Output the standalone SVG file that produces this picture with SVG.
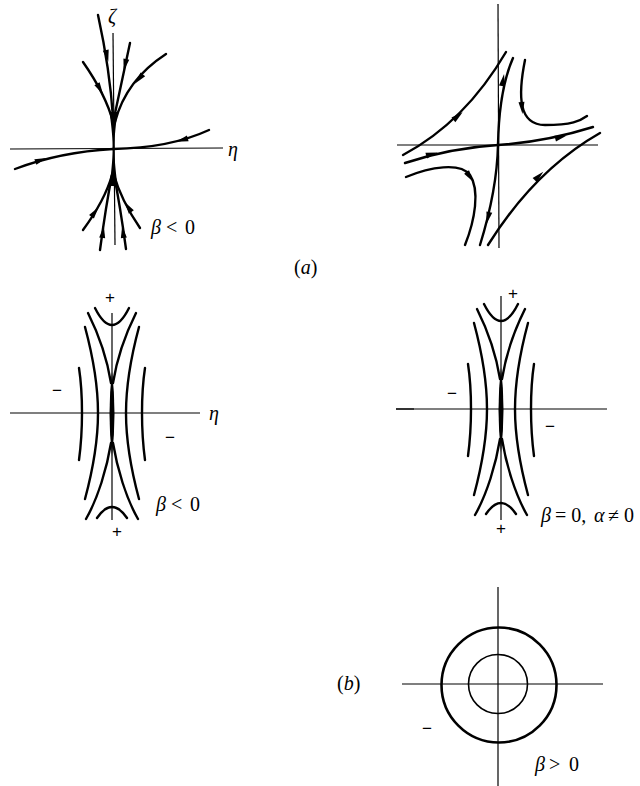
<svg xmlns="http://www.w3.org/2000/svg" xmlns:xlink="http://www.w3.org/1999/xlink" width="640" height="786" viewBox="0 0 640 786">
<style>
.ax{stroke:#000;stroke-width:1.2;fill:none}
.c{stroke:#000;stroke-width:2.4;fill:none;stroke-linecap:round}
.ct{stroke:#000;stroke-width:1.6;fill:none}
.t{font-family:"Liberation Serif",serif;font-size:20px;fill:#000}
.ti{font-family:"Liberation Serif",serif;font-style:italic;font-size:20px;fill:#000}
.s{font-family:"Liberation Sans",sans-serif;font-size:17px;fill:#000}
</style>
<defs>
<path id="ah" d="M6,0 L-6,-3 L-6,3 Z" fill="#000"/>
<g id="contours">
<path class="c" d="M-17,-105 Q0,-71 17,-105"/>
<path class="c" d="M-15,105 Q0,83 15,105"/>
<path class="c" d="M1,-30 C5,-55 14,-80 24,-100"/>
<path class="c" d="M-1,-30 C-5,-55 -14,-80 -24,-100"/>
<path class="c" d="M1,30 C5,55 14,85 26,106"/>
<path class="c" d="M-1,30 C-5,55 -14,85 -26,106"/>
<path class="c" d="M14,0 C14,-30 20,-60 27,-86 M14,0 C14,30 20,60 27,86"/>
<path class="c" d="M-14,0 C-14,-30 -20,-60 -27,-86 M-14,0 C-14,30 -20,60 -27,86"/>
<path class="c" d="M30,0 C30,-18 31,-32 33,-45 M30,0 C30,18 31,32 33,47"/>
<path class="c" d="M-30,0 C-30,-18 -31,-32 -33,-45 M-30,0 C-30,18 -31,32 -33,47"/>
<path d="M0,-42 Q5,0 0,44 Q-5,0 0,-42 Z" fill="#000"/>
</g>
</defs>

<g id="plot-a-left">
<line class="ax" x1="113" y1="33" x2="115" y2="245"/>
<line class="ax" x1="10" y1="149" x2="223" y2="148"/>
<path class="c" d="M98,15 Q110,70 113,118"/>
<path class="c" d="M130,43 Q121,85 114,118"/>
<path class="c" d="M83,62 Q106,95 113,122"/>
<path class="c" d="M166,54 Q126,80 115,122"/>
<path class="c" d="M209,130 Q170,148 113,149"/>
<path class="c" d="M15,169 Q60,152 113,149"/>
<path class="c" d="M83,230 Q105,200 112,175"/>
<path class="c" d="M100,250 Q106,205 112,175"/>
<path class="c" d="M126,249 Q120,205 114,175"/>
<path class="c" d="M140,228 Q121,200 114,175"/>
<path d="M109.5,112 Q113,138 112.5,148 Q113,158 109.5,186 L117.5,186 Q114,158 114.5,148 Q114,138 117.5,112 Z" fill="#000"/>
<use xlink:href="#ah" transform="translate(107,56) rotate(78)"/>
<use xlink:href="#ah" transform="translate(125,65) rotate(103)"/>
<use xlink:href="#ah" transform="translate(100,89) rotate(60)"/>
<use xlink:href="#ah" transform="translate(139,79) rotate(130)"/>
<use xlink:href="#ah" transform="translate(182,140) rotate(164)"/>
<use xlink:href="#ah" transform="translate(41,160) rotate(-20)"/>
<use xlink:href="#ah" transform="translate(95,212) rotate(-54)"/>
<use xlink:href="#ah" transform="translate(103,232) rotate(-82)"/>
<use xlink:href="#ah" transform="translate(123,232) rotate(-98)"/>
<use xlink:href="#ah" transform="translate(128,207) rotate(-124)"/>
<text class="ti" x="108" y="23">ζ</text>
<text class="ti" x="228" y="156">η</text>
<text class="ti" x="151" y="234">β</text>
<text class="t" x="166" y="234">&lt;</text>
<text class="t" x="185" y="234">0</text>
</g>

<g id="plot-a-right">
<line class="ax" x1="498" y1="4" x2="499" y2="248"/>
<line class="ax" x1="397" y1="145" x2="598" y2="145"/>
<path class="c" d="M403,155 Q465,122 506,52"/>
<path class="c" d="M405,163 Q450,148 498,145 Q545,142 593,127"/>
<path class="c" d="M480,245 Q497,190 498,145 Q499,90 513,58"/>
<path class="c" d="M525,60 C518,95 518,125 545,125 S580,121 587,116"/>
<path class="c" d="M406,177 C430,167 460,162 470,175 C480,190 475,220 465,245"/>
<path class="c" d="M488,245 Q535,170 600,133"/>
<use xlink:href="#ah" transform="translate(458,116) rotate(-40)"/>
<use xlink:href="#ah" transform="translate(432,154) rotate(-15)"/>
<use xlink:href="#ah" transform="translate(561,137) rotate(-15)"/>
<use xlink:href="#ah" transform="translate(503,80) rotate(-80)"/>
<use xlink:href="#ah" transform="translate(488,218) rotate(103)"/>
<use xlink:href="#ah" transform="translate(522,108) rotate(85)"/>
<use xlink:href="#ah" transform="translate(470,177) rotate(55)"/>
<use xlink:href="#ah" transform="translate(539,176) rotate(-45)"/>
</g>

<g id="label-a">
<text class="t" font-size="17" x="294" y="274">(<tspan font-style="italic">a</tspan>)</text>
</g>

<g id="plot-b-left">
<line class="ax" x1="10" y1="413" x2="200" y2="413"/>
<line class="ax" x1="112" y1="313" x2="112" y2="520"/>
<use xlink:href="#contours" transform="translate(112,413)"/>
<text class="s" x="105" y="303">+</text>
<text class="s" x="112" y="537">+</text>
<text class="s" x="52" y="396">−</text>
<text class="s" x="165" y="443">−</text>
<text class="ti" x="209" y="420">η</text>
<text class="ti" x="156" y="511">β</text>
<text class="t" x="171" y="511">&lt;</text>
<text class="t" x="190" y="511">0</text>
</g>

<g id="plot-b-right">
<line class="ax" x1="396" y1="409" x2="607" y2="409"/>
<line class="ax" x1="396" y1="409" x2="414" y2="409" stroke-width="2"/>
<line class="ax" x1="501" y1="296" x2="501" y2="520"/>
<use xlink:href="#contours" transform="translate(501,409)"/>
<text class="s" x="508" y="299">+</text>
<text class="s" x="496" y="534">+</text>
<text class="s" x="447" y="399">−</text>
<text class="s" x="545" y="432">−</text>
<text class="ti" x="541" y="522">β</text>
<text class="t" x="555" y="522">= 0,</text>
<text class="ti" x="594" y="522">α</text>
<text class="t" x="608" y="522">≠ 0</text>
</g>

<g id="plot-c">
<line class="ax" x1="498" y1="587" x2="498" y2="786"/>
<line class="ax" x1="402" y1="684" x2="603" y2="684"/>
<circle cx="499" cy="685" r="57.5" fill="none" stroke="#000" stroke-width="2.6"/>
<circle cx="498" cy="684" r="29.5" class="ct"/>
<text class="t" x="337" y="690">(<tspan font-style="italic">b</tspan>)</text>
<text class="s" x="422" y="734">−</text>
<text class="ti" x="535" y="771">β</text>
<text class="t" x="549" y="771">&gt;</text>
<text class="t" x="569" y="771">0</text>
</g>
</svg>
